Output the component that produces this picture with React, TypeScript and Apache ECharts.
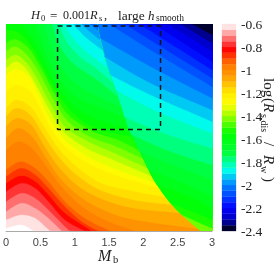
import React, { useEffect, useRef } from "react";
import * as echarts from "echarts";

// Contours, as [h, v] reading units (converted to axis values by toAxis).
const leftLevels = [-2.0, -1.95, -1.9, -1.85, -1.8, -1.75, -1.7, -1.65, -1.6, -1.55, -1.5, -1.45, -1.4, -1.35, -1.3, -1.25, -1.2, -1.15, -1.1, -1.05, -1.0, -0.95, -0.9, -0.85, -0.8, -0.75, -0.7, -0.65, -0.6];
const leftContours: number[][][] = [
  [[265, 12], [300, 40], [330, 62]],
  [[240, 12], [270, 40], [310, 70]],
  [[215, 12], [250, 50], [305, 92]],
  [[187, 12], [215, 55], [260, 100], [320, 145]],
  [[170, 12], [195, 65], [235, 110], [290, 150], [345, 198]],
  [[150, 12], [178, 85], [220, 135], [280, 175], [352, 232]],
  [[125, 12], [155, 100], [195, 165], [260, 215], [362, 262]],
  [[100, 12], [135, 110], [170, 175], [230, 235], [300, 265], [375, 295]],
  [[60, 12], [100, 70], [130, 130], [165, 195], [215, 255], [280, 295], [385, 328]],
  [[12, 30], [50, 38], [90, 80], [125, 145], [165, 215], [215, 280], [285, 325], [395, 352]],
  [[12, 70], [40, 58], [80, 85], [115, 140], [155, 215], [200, 285], [275, 335], [350, 360], [420, 395]],
  [[12, 95], [40, 80], [75, 105], [110, 155], [150, 230], [195, 300], [265, 350], [345, 380], [432, 420]],
  [[12, 120], [42, 105], [75, 130], [105, 175], [145, 250], [190, 320], [260, 365], [340, 400], [445, 448]],
  [[12, 145], [42, 125], [75, 150], [105, 200], [140, 265], [185, 335], [255, 385], [335, 420], [455, 470]],
  [[12, 165], [43, 148], [80, 170], [110, 225], [140, 290], [185, 355], [250, 405], [335, 445], [470, 492]],
  [[12, 215], [43, 195], [85, 215], [115, 265], [150, 330], [195, 385], [260, 430], [340, 465], [482, 507]],
  [[12, 265], [43, 240], [85, 260], [120, 310], [170, 385], [225, 440], [300, 490], [400, 515], [495, 532]],
  [[12, 290], [43, 265], [85, 285], [125, 345], [170, 410], [225, 465], [295, 510], [395, 540], [515, 555]],
  [[12, 320], [45, 295], [88, 315], [125, 375], [170, 440], [225, 495], [295, 535], [395, 565], [540, 580]],
  [[12, 355], [48, 325], [90, 350], [130, 410], [175, 475], [235, 530], [305, 570], [400, 600], [600, 628]],
  [[12, 390], [50, 365], [90, 385], [130, 435], [175, 495], [235, 555], [310, 600], [400, 633]],
  [[12, 450], [55, 425], [100, 445], [140, 485], [190, 545], [250, 595], [325, 633]],
  [[12, 470], [57, 445], [100, 465], [140, 505], [190, 560], [240, 605], [290, 633]],
  [[12, 490], [57, 468], [100, 485], [140, 525], [190, 580], [270, 633]],
  [[12, 515], [58, 490], [100, 505], [140, 545], [190, 600], [250, 633]],
  [[12, 545], [58, 520], [100, 535], [140, 570], [190, 620], [205, 633]],
  [[12, 575], [58, 550], [100, 565], [140, 595], [180, 633]],
  [[12, 600], [58, 585], [100, 595], [130, 620], [145, 633]],
  [[12, 625], [58, 615], [95, 633]],
];
const rightLevels = [-1.5, -1.55, -1.6, -1.65, -1.7, -1.75, -1.8, -1.85, -1.9, -1.95, -2.0, -2.05, -2.1, -2.15, -2.2, -2.25, -2.3, -2.35];
const rightContours: number[][][] = [
  [[545, 585], [600, 610], [636, 625]],
  [[510, 550], [590, 580], [636, 600]],
  [[470, 495], [570, 530], [636, 565]],
  [[445, 450], [550, 490], [636, 530]],
  [[415, 395], [530, 440], [636, 480]],
  [[393, 345], [510, 395], [636, 435]],
  [[370, 290], [490, 340], [636, 385]],
  [[345, 210], [470, 275], [636, 340]],
  [[328, 165], [450, 225], [636, 305]],
  [[310, 110], [450, 190], [636, 270]],
  [[298, 55], [450, 140], [636, 235]],
  [[325, 12], [450, 90], [636, 200]],
  [[370, 12], [636, 175]],
  [[415, 12], [636, 150]],
  [[460, 12], [636, 125]],
  [[500, 12], [636, 95]],
  [[540, 12], [636, 70]],
  [[575, 12], [636, 45]],
];
const jumpCurve = [[288, 5], [290, 12], [297, 50], [307, 90], [320, 140], [345, 210], [365, 270], [385, 330], [420, 400], [460, 480], [510, 550], [555, 595], [600, 633], [612, 645]];
const boxX = [0.75, 2.25, 2.25, 0.75, 0.75];
const boxY = [2.97, 2.97, 1.47, 1.47, 2.97];
const xTicks = [0, 0.5, 1, 1.5, 2, 2.5, 3];
const colorTicks = [-2.4, -2.2, -2, -1.8, -1.6, -1.4, -1.2, -1, -0.8, -0.6];
const bandEdges = Array.from({ length: 36 }, (_, i) => Math.round((-2.4 + i * 0.05) * 100) / 100);
const colorStops: [number, number[]][] = [
  [-2.4, [0, 0, 0]], [-2.3, [0, 0, 190]], [-2.2, [0, 0, 255]], [-2.0, [0, 130, 255]], [-1.87, [0, 255, 235]],
  [-1.72, [0, 255, 60]], [-1.55, [0, 255, 0]], [-1.3, [255, 255, 0]], [-1.2, [255, 235, 0]], [-1.05, [255, 155, 0]], [-0.95, [255, 120, 0]],
  [-0.82, [255, 0, 0]], [-0.6, [255, 255, 255]],
];

function colorAt(v: number) {
  for (let i = 1; i < colorStops.length; i++) {
    const [b, cb] = colorStops[i];
    const [a, ca] = colorStops[i - 1];
    if (v <= b) {
      const t = (v - a) / (b - a);
      return `rgb(${ca.map((c, k) => Math.round(c + (cb[k] - c) * t)).join(",")})`;
    }
  }
  return "#fff";
}
const toAxis = (p: number[]) => [(p[0] - 12) / 207.67, (633 - p[1]) / 207];
function spline(pts: number[][]) {
  const out: number[][] = [];
  for (let i = 0; i < pts.length - 1; i++) {
    const p0 = pts[Math.max(i - 1, 0)], p1 = pts[i], p2 = pts[i + 1], p3 = pts[Math.min(i + 2, pts.length - 1)];
    for (let s = 0; s < 8; s++) {
      const t = s / 8;
      out.push([0, 1].map((k) => 0.5 * (2 * p1[k] + (p2[k] - p0[k]) * t + (2 * p0[k] - 5 * p1[k] + 4 * p2[k] - p3[k]) * t * t + (3 * p1[k] - p0[k] - 3 * p2[k] + p3[k]) * t * t * t)));
    }
  }
  out.push(pts[pts.length - 1]);
  return out;
}
const jumpDense = spline(jumpCurve);
const leftPolys = leftContours.map((c, i) => ({
  color: colorAt(leftLevels[i] + 0.025),
  pts: [...spline(c), [650, 650], [5, 650], [5, c[0][1]]],
}));
const rightPolys = [
  { color: colorAt(-1.44), pts: [...jumpDense, [650, 650], [650, 5]] },
  ...rightContours.map((c, i) => ({
    color: colorAt(rightLevels[i] - 0.025),
    pts: [...spline(c), [650, 5], ...jumpDense.filter((p) => p[1] < c[0][1])],
  })),
];
const polys = [{ color: colorAt(-2.03), pts: [[5, 5], [650, 5], [650, 650], [5, 650]] }, ...leftPolys, ...rightPolys];

const serif = "Liberation Serif";
type Piece = [string, number, number, number, boolean];
const titlePieces: Piece[] = [
  ["H", 31, 15, 12.5, true], ["0", 41, 18, 8.5, false], ["=", 50, 15, 13, false], ["0.001", 63, 15, 12, false],
  ["R", 90, 15, 12.5, true], ["s", 99, 18, 8.5, false], [",", 104, 15, 12.5, false], ["large", 118, 15, 13.5, false],
  ["h", 148, 15, 13, true], ["smooth", 156, 18, 9.5, false],
];
const sideX = 269;
const sidePieces: Piece[] = [
  ["log", 78, sideX, 15, false], ["(", 98, sideX, 15, false], ["R", 103, sideX, 15, true], ["s,dis", 114, sideX - 5, 10, false],
  ["/", 142, sideX, 15, false], ["R", 155, sideX, 15, true], ["w", 166, sideX - 5, 10, false], [")", 177, sideX, 15, false],
];

export default function App() {
  const ref = useRef<HTMLDivElement>(null);
  useEffect(() => {
    document.body.style.margin = "0";
    const chart = echarts.init(ref.current!, undefined, { renderer: "svg" });
    const graphic: any[] = [
      ...titlePieces.map(([text, x, y, size, it]) => ({
        type: "text", x, y, silent: true,
        style: { text, fontFamily: serif, fontSize: size, fontStyle: it ? "italic" : "normal", fill: "#222", verticalAlign: "middle", align: "left" },
      })),
      ...sidePieces.map(([text, y, x, size, it]) => ({
        type: "text", x, y, rotation: -Math.PI / 2, silent: true,
        style: { text, fontFamily: serif, fontSize: size, fontStyle: it ? "italic" : "normal", fill: "#222", verticalAlign: "middle", align: "left" },
      })),
      { type: "text", x: 98, y: 255, silent: true, style: { text: "M", fontFamily: serif, fontSize: 16, fontStyle: "italic", fill: "#222", verticalAlign: "middle" } },
      { type: "text", x: 113, y: 259, silent: true, style: { text: "b", fontFamily: serif, fontSize: 10.5, fill: "#222", verticalAlign: "middle" } },
    ];
    chart.setOption({
      animation: false,
      backgroundColor: "#fff",
      graphic,
      grid: [
        { left: 4, top: 24, width: 208, height: 207 },
        { left: 222, top: 24, width: 14, height: 207 },
      ],
      xAxis: [
        {
          gridIndex: 0, type: "value", min: 0, max: 3, interval: 0.5, z: 5,
          axisLine: { show: true, lineStyle: { color: "#aaa" } }, axisTick: { show: false }, splitLine: { show: false },
          axisLabel: { fontFamily: "Liberation Sans", fontSize: 11, color: "#444", margin: 5, showMinLabel: true, showMaxLabel: true, formatter: (v: number) => (xTicks.includes(v) ? String(v) : "") },
        },
        { gridIndex: 1, type: "value", min: 0, max: 1, show: false },
      ],
      yAxis: [
        { gridIndex: 0, type: "value", min: 0, max: 3, show: false },
        {
          gridIndex: 1, type: "value", min: -2.4, max: -0.6, interval: 0.2, position: "right",
          axisLine: { show: false }, axisTick: { show: false }, splitLine: { show: false },
          axisLabel: { fontFamily: serif, fontSize: 13.5, color: "#222", margin: 5, formatter: (v: number) => String(colorTicks.find((t) => Math.abs(t - v) < 1e-6) ?? v) },
        },
      ],
      series: [
        {
          type: "custom", xAxisIndex: 0, yAxisIndex: 0, clip: true, silent: true,
          data: polys.map((_, i) => [i]),
          encode: { x: -1, y: -1 },
          renderItem: (params: any, api: any) => {
            const p = polys[params.dataIndex];
            return { type: "polygon", shape: { points: p.pts.map((q) => api.coord(toAxis(q))) }, style: { fill: p.color, stroke: p.color, lineWidth: 0.3 } };
          },
        },
        {
          type: "line", xAxisIndex: 0, yAxisIndex: 0, symbol: "none", silent: true, z: 4,
          data: boxX.map((x, i) => [x, boxY[i]]),
          lineStyle: { color: "#111", width: 1.5, type: [5, 4] },
        },
        {
          type: "custom", xAxisIndex: 1, yAxisIndex: 1, silent: true,
          data: bandEdges.map((b) => [0, b]),
          encode: { x: 0, y: 1 },
          renderItem: (params: any, api: any) => {
            const v = bandEdges[params.dataIndex];
            const a = api.coord([0, v + 0.05]);
            const b = api.coord([1, v]);
            const fill = colorAt(v + 0.025);
            return { type: "rect", shape: { x: a[0], y: a[1], width: b[0] - a[0], height: b[1] - a[1] }, style: { fill, stroke: fill, lineWidth: 0.3 } };
          },
        },
      ],
    });
    return () => chart.dispose();
  }, []);
  return <div ref={ref} style={{ position: "absolute", left: 0, top: 0, width: 280, height: 264, filter: "blur(0.7px)" }} />;
}
